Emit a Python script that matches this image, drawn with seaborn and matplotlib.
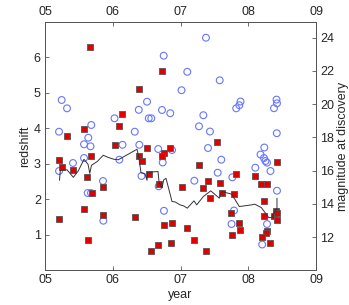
import matplotlib
matplotlib.use("Agg")
import matplotlib.pyplot as plt
import seaborn as sns
import pandas as pd

# ---- data ----
red_year = [5.664, 6.731, 6.387, 6.141, 6.097, 5.576, 5.329, 6.038, 6.510, 6.852,
            5.207, 5.246, 5.418, 5.683, 5.627, 5.852, 5.694, 5.580, 5.861, 5.207, 5.639,
            6.392, 6.432, 6.531, 6.687, 6.752, 6.727, 7.022, 6.324, 6.761, 6.879, 6.668, 6.569, 6.855,
            7.273, 7.401, 7.337, 7.579, 7.608, 7.819, 7.794, 7.435, 7.750, 7.868, 7.883, 7.765,
            7.100, 7.199, 7.376, 7.546,
            8.424, 8.104, 8.184, 8.277, 8.232, 8.232, 8.380, 8.414, 8.424, 8.424, 8.277, 8.269,
            8.203, 8.325]
red_z = [6.299, 5.610, 5.113, 4.407, 4.056, 3.983, 3.794, 3.525, 3.455, 3.455,
         3.116, 2.910, 2.825, 3.229, 2.627, 2.353, 2.192, 1.723, 1.554, 1.449, 0.842,
         3.209, 3.088, 2.712, 2.429, 3.305, 3.209, 2.345, 1.514, 1.271, 1.328, 0.715, 0.537, 0.763,
         2.966, 2.514, 2.316, 2.458, 2.175, 2.701, 2.147, 2.042, 1.610, 1.336, 1.138, 0.989,
         1.186, 0.847, 0.554, 3.624,
         3.045, 2.650, 2.438, 2.438, 1.958, 1.520, 1.542, 1.681, 1.619, 1.421, 1.110, 1.040,
         0.932, 0.763]

circ_year = [5.246, 5.325, 5.207, 5.683, 5.639, 5.576, 5.672, 6.026, 6.752, 7.015,
             6.506, 6.384, 6.727, 6.849, 6.531, 6.569, 6.325, 6.144, 6.392, 6.671, 6.875,
             7.376, 7.100, 7.579, 7.886, 7.868, 7.822, 8.417, 8.424, 8.380, 7.337, 7.273,
             7.435, 8.421, 7.406, 8.237,
             5.207, 5.413, 5.576, 5.856, 5.630, 5.679, 5.861, 6.097, 6.424, 6.678, 6.737,
             6.756, 7.602, 7.549, 7.204, 7.765, 7.790, 7.753,
             8.181, 8.232, 8.254, 8.277, 8.104, 8.328, 8.424, 8.277, 8.206]
circ_mag = [20.253, 19.753, 18.344, 18.748, 17.983, 17.586, 17.465, 19.151, 22.920, 20.843,
            20.150, 19.663, 19.651, 19.458, 19.151, 19.151, 18.344, 17.556, 17.556, 17.303, 17.243,
            24.003, 21.951, 21.439, 20.163, 19.940, 19.753, 20.277, 20.054, 19.759, 19.338, 18.669,
            18.356, 18.254, 17.363, 17.393,
            15.978, 16.460, 16.761, 15.376, 14.654, 14.654, 12.986, 16.659, 15.677, 15.057, 16.490,
            13.582, 16.659, 15.876, 15.394, 15.599, 13.600, 12.787,
            16.972, 16.761, 16.580, 16.480, 16.177, 15.978, 14.792, 12.787, 11.553]

line_year = [5.214, 5.226, 5.325, 5.418, 5.492, 5.576, 5.635, 5.661, 5.686, 5.772, 5.860,
             5.934, 6.018, 6.082, 6.284, 6.358, 6.383, 6.417, 6.476, 6.506, 6.513, 6.668,
             6.683, 6.727, 6.752, 6.786, 6.875, 6.919, 6.993, 7.047, 7.100, 7.199, 7.239,
             7.337, 7.446, 7.573, 7.608, 7.756, 7.868, 8.051, 8.095, 8.193, 8.302, 8.351,
             8.390, 8.424, 8.424]
line_z = [2.537, 2.819, 2.833, 2.621, 2.805, 3.130, 2.989, 2.734, 2.960, 3.068, 3.243,
          3.181, 3.130, 3.116, 3.333, 3.412, 3.209, 2.749, 2.720, 2.537, 2.763, 2.785,
          2.494, 2.325, 2.551, 2.593, 1.938, 1.929, 1.845, 1.816, 1.751, 1.958, 1.845,
          2.079, 2.240, 2.034, 2.220, 2.147, 1.797, 1.845, 1.864, 1.768, 1.486, 1.486,
          1.655, 1.751, 2.034]

year_ticks = [5, 6, 7, 8, 9]
year_labels = ["05", "06", "07", "08", "09"]
z_ticks = [1, 2, 3, 4, 5, 6]
mag_ticks = [12, 14, 16, 18, 20, 22, 24]

red_df = pd.DataFrame({"year": red_year, "redshift": red_z})
circ_df = pd.DataFrame({"year": circ_year, "mag": circ_mag})
line_df = pd.DataFrame({"year": line_year, "redshift": line_z})

sns.set_theme(style="white")
plt.rcParams["font.family"] = ["Liberation Sans", "DejaVu Sans"]

fig = plt.figure(figsize=(3.49, 3.05), dpi=100)
ax1 = fig.add_axes([45 / 349, 1 - 270.3 / 305, (316 - 45) / 349, (270.3 - 22) / 305])
ax2 = ax1.twinx()

sns.scatterplot(data=circ_df, x="year", y="mag", ax=ax2, marker="o", s=24,
                facecolor="none", edgecolor="#6676ff", linewidth=0.8, legend=False)
sns.lineplot(data=line_df, x="year", y="redshift", ax=ax1, sort=False, estimator=None,
             color="#333333", linewidth=0.7, legend=False)
sns.scatterplot(data=red_df, x="year", y="redshift", ax=ax1, marker="s", s=19,
                color="#e00000", edgecolor="#555555", linewidth=0.6, legend=False)

ax1.set_zorder(ax2.get_zorder() + 1)
ax1.patch.set_visible(False)

ax1.set_xlim(5, 9)
ax1.set_ylim(0, 7)
ax2.set_ylim(10, 24.95)

ax1.set_xticks(year_ticks)
ax1.set_xticklabels(year_labels)
ax1.set_yticks(z_ticks)
ax2.set_yticks(mag_ticks)

ax1.tick_params(axis="x", direction="in", top=True, labeltop=True, bottom=True,
                length=3, width=0.6, labelsize=9, pad=3, color="#555555")
ax1.tick_params(axis="y", direction="in", left=True, length=3, width=0.6,
                labelsize=9, pad=3, color="#555555")
ax2.tick_params(axis="y", direction="in", right=True, length=3, width=0.6,
                labelsize=9, pad=3, color="#555555")

ax1.set_xlabel("year", fontsize=9, labelpad=2)
ax1.set_ylabel("redshift", fontsize=9, labelpad=2)
ax2.set_ylabel("magnitude at discovery", fontsize=9, labelpad=2)

for ax in (ax1, ax2):
    for sp in ax.spines.values():
        sp.set_color("#555555")
        sp.set_linewidth(0.7)

fig.savefig("out.png", dpi=100)
